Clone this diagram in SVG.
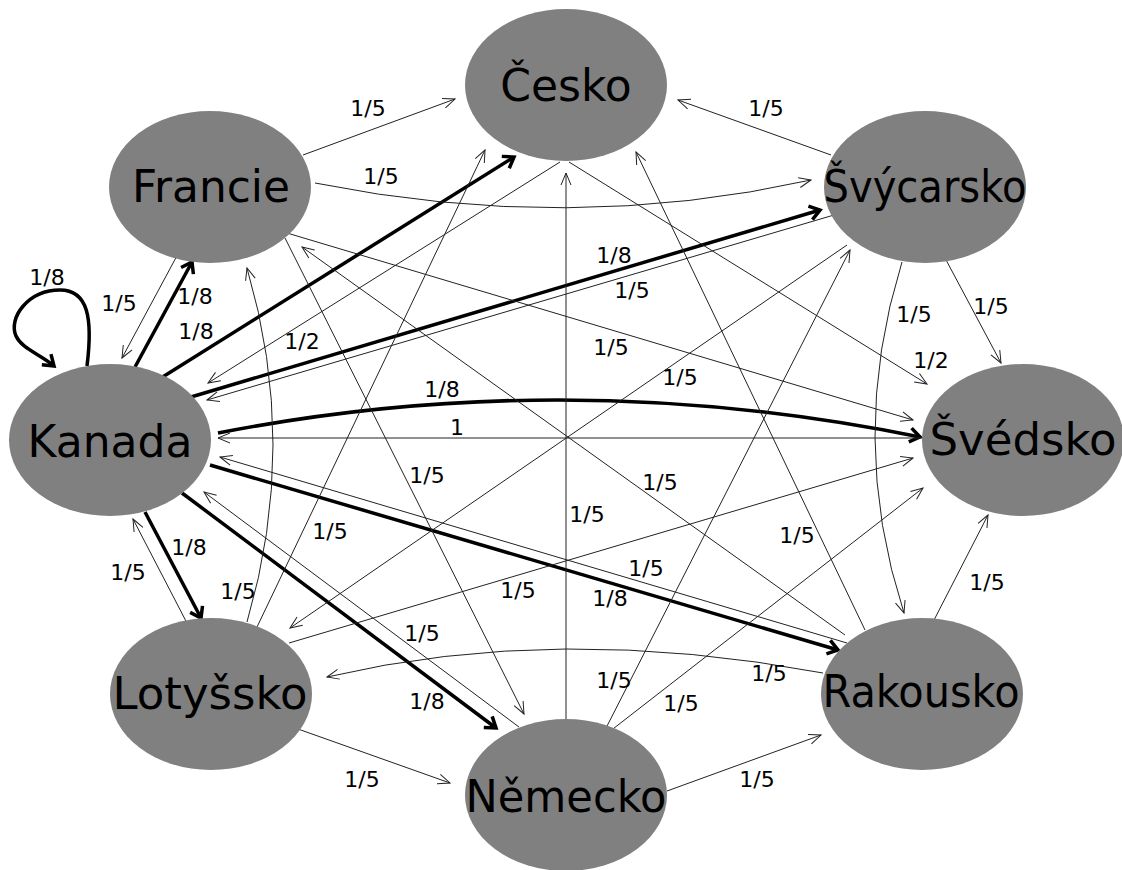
<svg xmlns="http://www.w3.org/2000/svg" width="1122" height="870" viewBox="0 0 1122 870">
<style>
.n{fill:#808080}
.t{font-family:"DejaVu Sans",Verdana,sans-serif;font-size:44px;fill:#000;text-anchor:middle}
.l{font-family:"DejaVu Sans",Verdana,sans-serif;font-size:22px;fill:#000;text-anchor:middle}
.e{fill:none;stroke:#222;stroke-width:1;marker-end:url(#a)}
.k{fill:none;stroke:#000;stroke-width:3.5;marker-end:url(#b)}
</style>
<defs>
<marker id="a" markerUnits="userSpaceOnUse" orient="auto" refX="0" refY="0" markerWidth="20" markerHeight="20" viewBox="-16 -10 20 20" overflow="visible"><path d="M-12,-5 L0,0 L-12,5" fill="none" stroke="#222" stroke-width="1"/></marker>
<marker id="b" markerUnits="userSpaceOnUse" orient="auto" refX="0" refY="0" markerWidth="24" markerHeight="24" viewBox="-16 -12 24 24" overflow="visible"><path d="M-10,-7 L0,0 L-10,7" fill="none" stroke="#000" stroke-width="3.5"/></marker>
</defs>
<rect width="1122" height="870" fill="#fff"/>
<g id="connectors">
<path class="k" d="M87,366 C93,318 88,290 60,290 C28,290 8,318 16,336 C22,349 40,354 54,366"/>
<path class="k" d="M135,367 L192,262"/>
<path class="k" d="M161,378 L514,157"/>
<path class="k" d="M191,397 L820,210"/>
<path class="k" d="M218,433 Q567,365 920,437"/>
<path class="k" d="M210,465 L838,650"/>
<path class="k" d="M182,493 L496,728"/>
<path class="k" d="M145,512 L201,618"/>
<path class="e" d="M179,252 L122,358"/>
<path class="e" d="M303,155 L455,99"/>
<path class="e" d="M315,183 Q569,234 811,180"/>
<path class="e" d="M287,233 L913,420"/>
<path class="e" d="M285,238 L524,714"/>
<path class="e" d="M560,162 L208,383"/>
<path class="e" d="M569,162 L927,384"/>
<path class="e" d="M831,155 L678,100"/>
<path class="e" d="M834,215 L207,400"/>
<path class="e" d="M847,245 L290,628"/>
<path class="e" d="M945,258 L1001,363"/>
<path class="e" d="M902,262 Q847,438 904,613"/>
<path class="e" d="M922,438 L218,438"/>
<path class="e" d="M847,643 L220,457"/>
<path class="e" d="M845,635 L302,247"/>
<path class="e" d="M865,630 L636,152"/>
<path class="e" d="M933,622 L988,515"/>
<path class="e" d="M823,673 Q557,623 327,677"/>
<path class="e" d="M566,719 L566,173"/>
<path class="e" d="M605,730 L850,250"/>
<path class="e" d="M609,732 L923,488"/>
<path class="e" d="M667,791 L821,735"/>
<path class="e" d="M519,727 L204,492"/>
<path class="e" d="M188,625 L133,519"/>
<path class="e" d="M247,622 Q299,445 247,268"/>
<path class="e" d="M257,627 L485,150"/>
<path class="e" d="M289,643 L913,458"/>
<path class="e" d="M298,729 L450,783"/>
</g>
<g id="labels">
<text class="l" x="47" y="285">1/8</text>
<text class="l" x="119" y="311">1/5</text>
<text class="l" x="195" y="304">1/8</text>
<text class="l" x="196" y="339">1/8</text>
<text class="l" x="302" y="349">1/2</text>
<text class="l" x="368" y="116">1/5</text>
<text class="l" x="381" y="184">1/5</text>
<text class="l" x="766" y="116">1/5</text>
<text class="l" x="614" y="263">1/8</text>
<text class="l" x="632" y="298">1/5</text>
<text class="l" x="611" y="355">1/5</text>
<text class="l" x="680" y="385">1/5</text>
<text class="l" x="914" y="322">1/5</text>
<text class="l" x="991" y="314">1/5</text>
<text class="l" x="931" y="368">1/2</text>
<text class="l" x="442" y="397">1/8</text>
<text class="l" x="457" y="435">1</text>
<text class="l" x="427" y="483">1/5</text>
<text class="l" x="660" y="490">1/5</text>
<text class="l" x="587" y="522">1/5</text>
<text class="l" x="330" y="539">1/5</text>
<text class="l" x="189" y="555">1/8</text>
<text class="l" x="128" y="580">1/5</text>
<text class="l" x="238" y="599">1/5</text>
<text class="l" x="518" y="598">1/5</text>
<text class="l" x="797" y="543">1/5</text>
<text class="l" x="646" y="576">1/5</text>
<text class="l" x="610" y="606">1/8</text>
<text class="l" x="987" y="590">1/5</text>
<text class="l" x="422" y="641">1/5</text>
<text class="l" x="614" y="688">1/5</text>
<text class="l" x="769" y="681">1/5</text>
<text class="l" x="681" y="711">1/5</text>
<text class="l" x="427" y="709">1/8</text>
<text class="l" x="362" y="787">1/5</text>
<text class="l" x="757" y="787">1/5</text>
</g>
<g id="cesko"><ellipse class="n" cx="566" cy="85" rx="101" ry="76"/><text class="t" x="566" y="101">Česko</text></g>
<g id="francie"><ellipse class="n" cx="210" cy="187" rx="101" ry="76"/><text class="t" x="211" y="202" textLength="158" lengthAdjust="spacingAndGlyphs">Francie</text></g>
<g id="svycarsko"><ellipse class="n" cx="925" cy="187" rx="101" ry="76"/><text class="t" x="925" y="202" textLength="203" lengthAdjust="spacingAndGlyphs">Švýcarsko</text></g>
<g id="kanada"><ellipse class="n" cx="110" cy="440" rx="101" ry="76"/><text class="t" x="110" y="457">Kanada</text></g>
<g id="svedsko"><ellipse class="n" cx="1023" cy="440" rx="101" ry="76"/><text class="t" x="1023" y="455" textLength="187" lengthAdjust="spacingAndGlyphs">Švédsko</text></g>
<g id="lotyssko"><ellipse class="n" cx="211" cy="694" rx="101" ry="76"/><text class="t" x="210" y="709" textLength="195" lengthAdjust="spacingAndGlyphs">Lotyšsko</text></g>
<g id="rakousko"><ellipse class="n" cx="922" cy="694" rx="101" ry="76"/><text class="t" x="921" y="707" textLength="197" lengthAdjust="spacingAndGlyphs">Rakousko</text></g>
<g id="nemecko"><ellipse class="n" cx="566" cy="795" rx="101" ry="76"/><text class="t" x="566" y="812" textLength="201" lengthAdjust="spacingAndGlyphs">Německo</text></g>
</svg>
